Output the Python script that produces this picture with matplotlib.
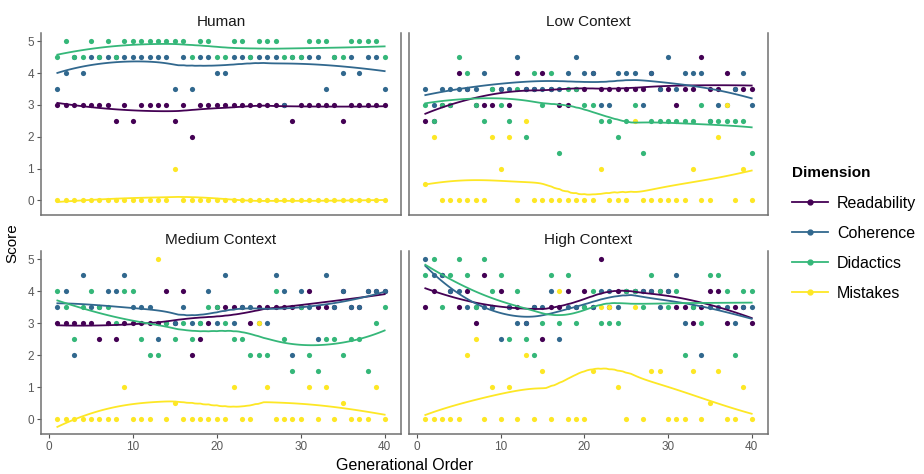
import numpy as np
import matplotlib.pyplot as plt
from matplotlib.lines import Line2D

plt.rcParams['font.family'] = ['Liberation Sans', 'DejaVu Sans']

# --- data --- #
order = np.arange(1, 41)
dims = ['Readability', 'Coherence', 'Didactics', 'Mistakes']
colors = ['#440154', '#31688E', '#35B779', '#FDE725']
panels = ['Human', 'Low Context', 'Medium Context', 'High Context']

human_read = [3, 3, 3, 3, 3, 3, 3, 2.5, 3, 2.5,
              3, 3, 3, 3, 2.5, 3, 2, 3, 3, 3,
              3, 3, 3, 3, 3, 3, 3, 3, 2.5, 3,
              3, 3, 3, 3, 2.5, 3, 3, 3, 3, 3]
human_coh = [3.5, 4, 4.5, 4, 4.5, 4.5, 4.5, 4.5, 4.5, 4.5,
             4.5, 4.5, 4.5, 4.5, 3.5, 4.5, 3.5, 4.5, 4.5, 4,
             4, 4.5, 4.5, 4.5, 4.5, 4.5, 4.5, 3, 4.5, 4.5,
             4.5, 4.5, 3.5, 4.5, 4, 4.5, 4, 4.5, 4.5, 3.5]
human_did = [4.5, 5, 4.5, 4.5, 5, 4.5, 5, 4.5, 5, 5,
             5, 5, 5, 5, 5, 5, 4.5, 5, 5, 4.5,
             4.5, 5, 5, 4.5, 5, 5, 5, 4.5, 4.5, 4.5,
             5, 5, 5, 4.5, 4.5, 5, 5, 5, 5, 4.5]
human_mis = [0, 0, 0, 0, 0, 0, 0, 0, 0, 0,
             0, 0, 0, 0, 1, 0, 0, 0, 0, 0,
             0, 0, 0, 0, 0, 0, 0, 0, 0, 0,
             0, 0, 0, 0, 0, 0, 0, 0, 0, 0]

low_read = [2.5, 2.5, 3, 3, 4, 3.5, 3, 3, 3, 3.5,
            3, 4, 3.5, 3.5, 4, 3.5, 3, 3, 3.5, 3.5,
            4, 3.5, 3.5, 3.5, 3.5, 3.5, 3.5, 4, 3.5, 3.5,
            3, 3.5, 3.5, 4.5, 3.5, 3.5, 4, 3.5, 3.5, 3.5]
low_coh = [3.5, 3, 3.5, 3.5, 3.5, 3.5, 3.5, 4, 3.5, 3.5,
           3.5, 4.5, 3.5, 3.5, 3.5, 3.5, 3.5, 4, 4.5, 4,
           4, 3, 3, 4, 4, 4, 3, 4, 3.5, 4.5,
           3.5, 4, 4, 4, 2.5, 3, 3, 3.5, 4, 3]
low_did = [3, 2.5, 3, 3, 4.5, 4, 3, 2.5, 3.5, 3,
           2.5, 3.5, 2, 4, 3, 4, 1.5, 3.5, 3.5, 3,
           3, 2.5, 2.5, 2, 2.5, 3, 1.5, 2.5, 2.5, 2.5,
           2.5, 2.5, 2.5, 3, 2.5, 2.5, 2.5, 2.5, 2.5, 1.5]
low_mis = [0.5, 2, 0, 0, 0, 0, 0, 0, 2, 1,
           2, 0, 2.5, 0, 0, 0, 0, 0, 0, 0,
           0, 1, 0, 0, 0, 2.5, 0, 0, 0, 0,
           0, 0, 1, 0, 0, 2, 3, 0, 1, 0]

med_read = [3, 3, 3, 3, 3, 2.5, 3, 2.5, 3, 3,
            3, 3, 3, 4, 3, 4, 2, 2.5, 3, 3.5,
            3.5, 3.5, 3.5, 3, 3.5, 3.5, 3.5, 3.5, 3.5, 3.5,
            4, 3.5, 3.5, 3.5, 4, 3.5, 3.5, 4, 4, 4]
med_coh = [3.5, 4, 2, 4.5, 3.5, 3.5, 4, 4, 4.5, 3.5,
           3.5, 3.5, 2.5, 3, 3, 3.5, 3, 3, 4, 3,
           4.5, 3, 3.5, 3.5, 3, 3, 4.5, 4, 2, 4,
           3.5, 2.5, 4.5, 3.5, 4, 3.5, 3.5, 4, 4, 4]
med_did = [4, 3.5, 2.5, 3.5, 4, 3.5, 3.5, 3, 4, 4,
           2.5, 2, 2, 3, 2.5, 3, 2.5, 3, 3.5, 3.5,
           3, 2.5, 2.5, 2, 2, 2, 4, 2.5, 1.5, 3.5,
           2, 1.5, 2.5, 2.5, 2, 2.5, 2.5, 1.5, 3, 3.5]
med_mis = [0, 0, 0, 0, 0, 0, 0, 0, 1, 0,
           0, 0, 5, 0, 0.5, 0, 0, 0, 0, 0,
           0, 1, 0, 0, 3, 1, 0, 0, 0, 0,
           1, 0, 1, 0, 0.5, 0, 0, 0, 1, 0]

high_read = [3.5, 4, 4.5, 4, 3.5, 4, 3, 4.5, 3.5, 4,
             3.5, 3.5, 3, 3.5, 2.5, 3.5, 3.5, 4, 3.5, 4,
             3.5, 5, 3.5, 4, 4, 4, 4, 4, 4, 4,
             3.5, 3.5, 3, 3.5, 4, 4, 3, 3.5, 3.5, 3]
high_coh = [5, 4.5, 4.5, 4, 4, 3.5, 3.5, 3.5, 3.5, 2.5,
            3.5, 3, 3, 3.5, 3.5, 4, 2.5, 3.5, 3.5, 3.5,
            3.5, 4, 4, 3.5, 4, 4, 4, 4, 3.5, 4,
            4.5, 3, 3.5, 2, 3.5, 3.5, 3.5, 3, 3.5, 3.5]
high_did = [4.5, 5, 3.5, 4.5, 5, 4.5, 3.5, 5, 4, 4.5,
            2.5, 4, 2.5, 2, 3, 4.5, 3, 4.5, 3, 3.5,
            4, 3, 3, 3, 4, 4, 3.5, 4.5, 4, 3.5,
            4, 2, 3.5, 3, 4.5, 4.5, 4, 2, 4, 4]
high_mis = [0, 0, 0, 0, 0, 2, 2.5, 0, 1, 0,
            1, 0, 2, 0, 1.5, 0, 4, 0, 0, 0,
            1.5, 3.5, 3.5, 1, 0, 3.5, 0, 1.5, 1.5, 0,
            0, 0, 1.5, 0, 0.5, 1.5, 0, 0, 1, 0]

scores = {
    'Human': [human_read, human_coh, human_did, human_mis],
    'Low Context': [low_read, low_coh, low_did, low_mis],
    'Medium Context': [med_read, med_coh, med_did, med_mis],
    'High Context': [high_read, high_coh, high_did, high_mis],
}


# loess smoother (degree 2, span 0.75, tricube weights) like geom_smooth
def loess(x, y, xs, span=0.75):
    q = int(np.floor(len(x) * span))
    fit = []
    for x0 in xs:
        d = np.abs(x - x0)
        h = np.sort(d)[q - 1]
        w = np.clip(1 - (d / h) ** 3, 0, None) ** 3
        c = np.polyfit(x, y, 2, w=np.sqrt(w))
        fit.append(np.polyval(c, x0))
    return np.array(fit)


W, H = 924, 474
fig = plt.figure(figsize=(W / 100, H / 100), dpi=100)

# panel boxes in pixels: left, top, right, bottom
boxes = [(41, 33, 401, 215), (409, 33, 768, 215),
         (41, 251, 401, 434), (409, 251, 768, 434)]
xs = np.linspace(1, 40, 120)

for i, name in enumerate(panels):
    l, t, r, b = boxes[i]
    ax = fig.add_axes([l / W, 1 - b / H, (r - l) / W, (b - t) / H])
    for vals, c in zip(scores[name], colors):
        ax.scatter(order, vals, s=14, color=c, linewidths=0, zorder=2)
    for vals, c in zip(scores[name], colors):
        ax.plot(xs, loess(order, np.array(vals, float), xs), color=c, lw=1.3, zorder=3)

    ax.set_xlim(-0.95, 41.95)
    ax.set_ylim(-0.46, 5.26)
    ax.set_xticks([0, 10, 20, 30, 40])
    ax.set_yticks([0, 1, 2, 3, 4, 5])
    ax.set_title(name, fontsize=11, pad=5, color='#1a1a1a')
    for s in ax.spines.values():
        s.set_color('#707070')
        s.set_linewidth(1.1)
    ax.spines['top'].set_visible(False)
    ax.tick_params(length=3, width=0.8, color='#555555', labelcolor='#595959', labelsize=8.5, pad=2)
    if i < 2:
        ax.tick_params(axis='x', bottom=False, labelbottom=False)
    if i % 2 == 1:
        ax.tick_params(axis='y', left=False, labelleft=False)

fig.text(12 / W, 1 - 243 / H, 'Score', rotation=90, ha='center', va='center', fontsize=11)
fig.text(405 / W, 1 - 465 / H, 'Generational Order', ha='center', va='center', fontsize=11.5)

handles = [Line2D([0], [0], color=c, lw=1.3, marker='o', markersize=3.5) for c in colors]
leg = fig.legend(handles, dims, title='Dimension', loc='upper left',
                 bbox_to_anchor=(778 / W, 1 - 152 / H), frameon=False, fontsize=11.5,
                 title_fontproperties={'weight': 'bold', 'size': 11},
                 handlelength=2.2, handletextpad=0.6, labelspacing=0.95, alignment='left')

plt.savefig('out.png', dpi=100)
